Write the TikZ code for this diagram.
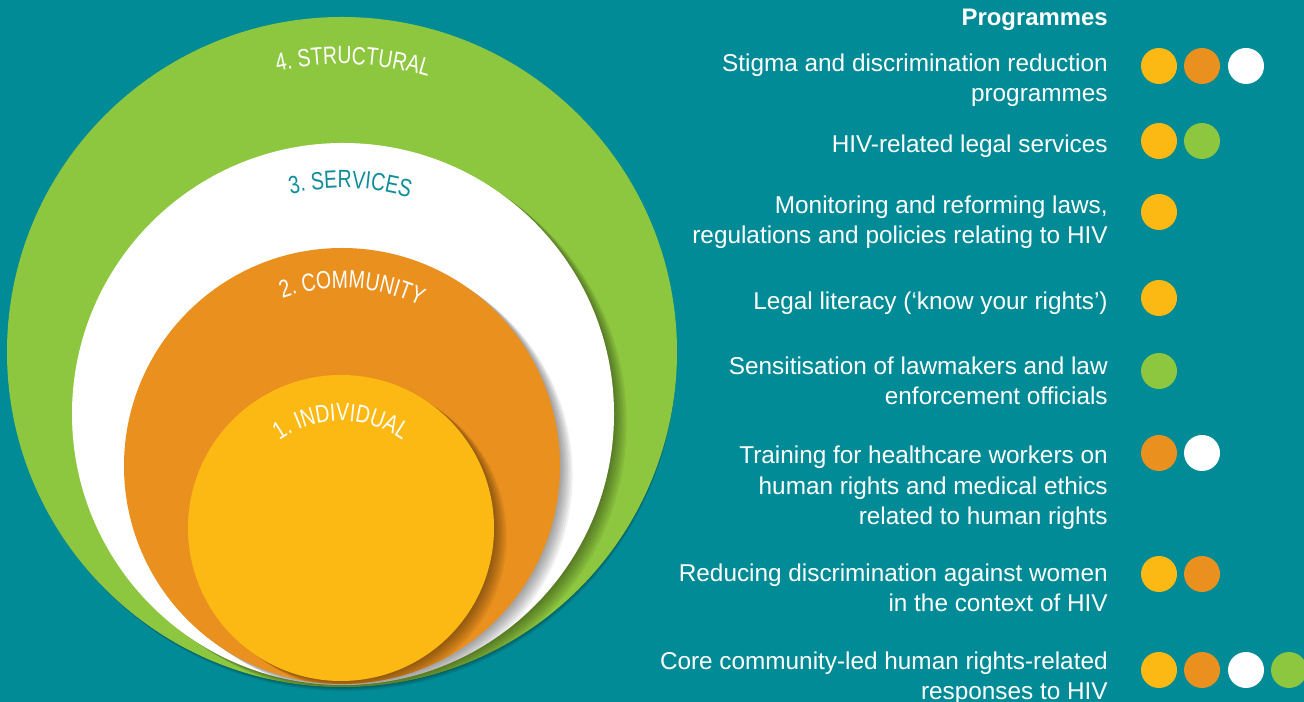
\documentclass[tikz,border=0pt]{standalone}
\usepackage{fontspec}
\setmainfont{Liberation Sans}
\newfontfamily\condfont[FakeStretch=0.78]{Liberation Sans}
\usetikzlibrary{decorations.text}
\definecolor{bgteal}{HTML}{008B96}
\definecolor{cyellow}{HTML}{FDB913}
\definecolor{corange}{HTML}{EA901E}
\definecolor{cgreen}{HTML}{8DC63F}
\definecolor{cteal}{HTML}{0E8E99}
\tikzset{
  item/.style={anchor=base east, align=right, text=white, inner sep=0pt,
    font=\fontsize{13.85}{17.6}\selectfont},
  pdot/.style={circle, inner sep=0pt, minimum size=0.72cm, draw=none},
  ring/.style={draw=none},
}
\newcommand{\shadowof}[3]{%
  \foreach \i in {1,...,8}{\fill[black, opacity=0.05] (#1+1.6*\i, #2-1.1*\i) circle[radius=#3];}%
}
\begin{document}
\begin{tikzpicture}[x=0.02cm, y=0.02cm]
\useasboundingbox (0,0) rectangle (1304,702);
\fill[bgteal] (0,0) rectangle (1304,702);
% shadow of the green disc on the background (mostly below it)
\foreach \i in {1,...,6}{\fill[black, opacity=0.05] (342+0.4*\i,350-1.3*\i) circle[radius=335-0.6*\i];}
\fill[cgreen] (342,350) circle[radius=335] node[ring] (structural) {};
\begin{scope}
  \clip (342,350) circle[radius=335];
  \shadowof{343}{288}{271}
\end{scope}
\fill[white] (343,288) circle[radius=271] node[ring] (services) {};
\begin{scope}
  \clip (343,288) circle[radius=271];
  \shadowof{342}{236}{218}
\end{scope}
\fill[corange] (342,236) circle[radius=218] node[ring] (community) {};
\begin{scope}
  \clip (342,236) circle[radius=218];
  \shadowof{341}{174}{153}
\end{scope}
\fill[cyellow] (341,174) circle[radius=153] node[ring] (individual) {};
% curved labels
\path[decorate, decoration={text along path, text align=center,
   text={|\condfont\fontsize{14.2}{14.2}\selectfont\color{white}|4. STRUCTURAL}}]
   (342,350) ++(147.8:288) arc[start angle=147.8, end angle=27.8, radius=288];
\path[decorate, decoration={text along path, text align=center,
   text={|\condfont\fontsize{14.2}{14.2}\selectfont\color{cteal}|3. SERVICES}}]
   (343,288) ++(148.2:226) arc[start angle=148.2, end angle=28.2, radius=226];
\path[decorate, decoration={text along path, text align=center,
   text={|\condfont\fontsize{14.2}{14.2}\selectfont\color{white}|2. COMMUNITY}}]
   (342,236) ++(146.8:178) arc[start angle=146.8, end angle=26.8, radius=178];
\path[decorate, decoration={text along path, text align=center,
   text={|\condfont\fontsize{14.2}{14.2}\selectfont\color{white}|1. INDIVIDUAL}}]
   (341,174) ++(150:107) arc[start angle=150, end angle=30, radius=107];
% programmes (anchors at the baseline of each item's last line)
\node[item, font=\bfseries\fontsize{13.6}{17.6}\selectfont] (title) at (1108,676) {Programmes};
\node[item] (p1) at (1108,600) {Stigma and discrimination reduction\\programmes};
\node[item] (p2) at (1108,549) {HIV-related legal services};
\node[item] (p3) at (1108,458) {Monitoring and reforming laws,\\regulations and policies relating to HIV};
\node[item] (p4) at (1108,392) {Legal literacy (‘know your rights’)};
\node[item] (p5) at (1108,297) {Sensitisation of lawmakers and law\\enforcement officials};
\node[item] (p6) at (1108,177) {Training for healthcare workers on\\human rights and medical ethics\\related to human rights};
\node[item] (p7) at (1108,90) {Reducing discrimination against women\\in the context of HIV};
\node[item] (p8) at (1108,2) {Core community-led human rights-related\\responses to HIV};
% dots
\node[pdot, fill=cyellow] (d1a) at (1159,636) {};
\node[pdot, fill=corange] (d1b) at (1202,636) {};
\node[pdot, fill=white]   (d1c) at (1246,636) {};
\node[pdot, fill=cyellow] (d2a) at (1159,561) {};
\node[pdot, fill=cgreen]  (d2b) at (1202,561) {};
\node[pdot, fill=cyellow] (d3a) at (1159,490) {};
\node[pdot, fill=cyellow] (d4a) at (1159,404) {};
\node[pdot, fill=cgreen]  (d5a) at (1159,331) {};
\node[pdot, fill=corange] (d6a) at (1159,249) {};
\node[pdot, fill=white]   (d6b) at (1202,249) {};
\node[pdot, fill=cyellow] (d7a) at (1159,128) {};
\node[pdot, fill=corange] (d7b) at (1202,128) {};
\node[pdot, fill=cyellow] (d8a) at (1159,32) {};
\node[pdot, fill=corange] (d8b) at (1202,32) {};
\node[pdot, fill=white]   (d8c) at (1246,32) {};
\node[pdot, fill=cgreen]  (d8d) at (1289,32) {};
\end{tikzpicture}
\end{document}
